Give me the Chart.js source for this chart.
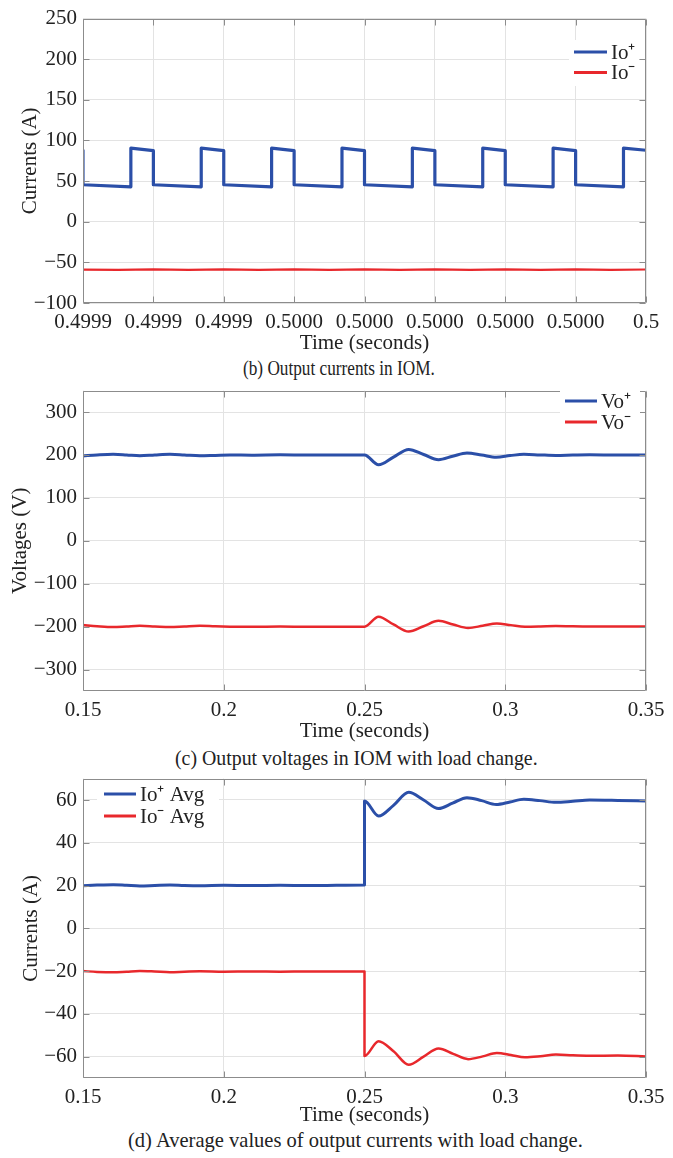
<!DOCTYPE html>
<html>
<head>
<meta charset="utf-8">
<script src="https://cdn.jsdelivr.net/npm/chart.js@4.4.1/dist/chart.umd.min.js"></script>
<style>
  body { margin: 0; background: #fff; width: 673px; height: 1158px; position: relative; overflow: hidden;
         font-family: "Liberation Serif", serif; color: #222; }
  .box { position: absolute; left: 0; width: 673px; }
  .cap { position: absolute; font-size: 21px; line-height: 24px; white-space: nowrap; transform-origin: left center; }
</style>
</head>
<body>
<div class="box" style="top:0;height:356px"><canvas id="c1"></canvas></div>
<div class="cap" style="left:243px;top:356px;transform:scaleX(0.82)">(b) Output currents in IOM.</div>
<div class="box" style="top:372px;height:372px"><canvas id="c2"></canvas></div>
<div class="cap" style="left:175px;top:746px;transform:scaleX(0.945)">(c) Output voltages in IOM with load change.</div>
<div class="box" style="top:760px;height:368px"><canvas id="c3"></canvas></div>
<div class="cap" style="left:128px;top:1128px;transform:scaleX(0.977)">(d) Average values of output currents with load change.</div>

<script>
// (b) output currents, switching ripple
const ioTickValues = [0.49992, 0.49993, 0.49994, 0.49995, 0.49996, 0.49997, 0.49998, 0.49999, 0.5];
const ioTickLabels = ['0.4999', '0.4999', '0.4999', '0.5000', '0.5000', '0.5000', '0.5000', '0.5000', '0.5'];
const ioYTicks = [-100, -50, 0, 50, 100, 150, 200, 250];
const ioYLabels = ['−100', '−50', '0', '50', '100', '150', '200', '250'];

const ioPlusTime = [0.49992, 0.49992, 0.4999268, 0.4999268,
                    0.49993, 0.49993, 0.4999368, 0.4999368,
                    0.49994, 0.49994, 0.4999468, 0.4999468,
                    0.49995, 0.49995, 0.4999568, 0.4999568,
                    0.49996, 0.49996, 0.4999668, 0.4999668,
                    0.49997, 0.49997, 0.4999768, 0.4999768,
                    0.49998, 0.49998, 0.4999868, 0.4999868,
                    0.49999, 0.49999, 0.4999968, 0.4999968, 0.5];
const ioPlus = [88, 45.5, 43, 90.5,
                87.5, 45.5, 43, 90.5,
                87.5, 45.5, 43, 90.5,
                87.5, 45.5, 43, 90.5,
                87.5, 45.5, 43, 90.5,
                87.5, 45.5, 43, 90.5,
                87.5, 45.5, 43, 90.5,
                87.5, 45.5, 43, 90.5, 88];
const ioMinusTime = [0.49992, 0.499925, 0.49993, 0.499935, 0.49994, 0.499945, 0.49995, 0.499955, 0.49996,
                     0.499965, 0.49997, 0.499975, 0.49998, 0.499985, 0.49999, 0.499995, 0.5];
const ioMinus = [-59, -59.3, -58.7, -59.3, -58.6, -59.3, -58.7, -59.3, -58.6,
                 -59.3, -58.7, -59.3, -58.6, -59.3, -58.7, -59.3, -58.8];

// (c) output voltages with load change
const tTickValues = [0.15, 0.2, 0.25, 0.3, 0.35];
const tTickLabels = ['0.15', '0.2', '0.25', '0.3', '0.35'];
const voYTicks = [-300, -200, -100, 0, 100, 200, 300];
const voYLabels = ['−300', '−200', '−100', '0', '100', '200', '300'];

const voPlusTime = [0.15, 0.155, 0.1607, 0.1655, 0.1702, 0.1755, 0.1809, 0.186, 0.1915, 0.197, 0.2022,
                    0.21, 0.22, 0.23, 0.24, 0.25, 0.255, 0.2603, 0.2657, 0.271, 0.2763, 0.2813, 0.2864,
                    0.2916, 0.2968, 0.3017, 0.3066, 0.3123, 0.318, 0.324, 0.33, 0.34, 0.35];
const voPlus = [197.7, 200, 201.6, 200, 198, 200, 201.6, 200, 198, 199, 200,
                199.6, 200.3, 199.7, 200.2, 200, 177, 195, 213, 201, 189, 197, 204.6,
                200, 194.8, 198.5, 201.6, 200.2, 199, 199.8, 200.4, 199.8, 200];
const voMinusTime = [0.15, 0.155, 0.1607, 0.1655, 0.1702, 0.1755, 0.1809, 0.186, 0.1915, 0.197, 0.2022,
                     0.21, 0.22, 0.23, 0.24, 0.25, 0.255, 0.2603, 0.2657, 0.271, 0.2763, 0.2815, 0.2868,
                     0.292, 0.297, 0.302, 0.307, 0.3125, 0.318, 0.324, 0.33, 0.34, 0.35];
const voMinus = [-196.3, -199, -201, -199.5, -198, -199.5, -201, -199.5, -198, -199.3, -200,
                 -200.3, -199.8, -200.2, -200, -200, -177, -195, -211.5, -199, -186.5, -195, -203,
                 -198, -192.7, -196.5, -200, -199.5, -198.6, -199.4, -199.8, -199.5, -199.6];

// (d) average output currents with load change
const avgYTicks = [-60, -40, -20, 0, 20, 40, 60];
const avgYLabels = ['−60', '−40', '−20', '0', '20', '40', '60'];

const avgPlusTime = [0.15, 0.155, 0.1607, 0.1655, 0.1702, 0.1755, 0.1809, 0.186, 0.1915, 0.2,
                     0.21, 0.22, 0.23, 0.24, 0.25, 0.25, 0.255, 0.2603, 0.2657, 0.271, 0.2763, 0.2813,
                     0.2864, 0.2916, 0.2968, 0.3017, 0.3066, 0.3123, 0.318, 0.324, 0.33, 0.34, 0.35];
const avgPlus = [19.9, 20.2, 20.4, 20.1, 19.8, 20, 20.2, 20, 19.9, 20.1,
                 20, 20.1, 20, 20.1, 20.2, 59.5, 52.5, 57.5, 63.6, 60, 56, 58.5,
                 61.1, 59.7, 57.9, 59.1, 60.3, 59.7, 58.9, 59.4, 60, 59.8, 59.5];
const avgMinusTime = [0.15, 0.155, 0.1607, 0.1655, 0.1702, 0.1755, 0.1809, 0.186, 0.1915, 0.2,
                      0.21, 0.22, 0.23, 0.24, 0.25, 0.25, 0.255, 0.2603, 0.2657, 0.271, 0.2763, 0.2815,
                      0.2868, 0.292, 0.297, 0.302, 0.307, 0.3125, 0.318, 0.324, 0.33, 0.34, 0.35];
const avgMinus = [-20, -20.4, -20.6, -20.3, -20, -20.2, -20.5, -20.3, -20.1, -20.3,
                  -20.2, -20.3, -20.2, -20.2, -20.2, -59.7, -52.8, -57.5, -63.8, -60, -56.2, -58.7,
                  -61.2, -59.9, -58.3, -59.2, -60.3, -59.8, -59, -59.4, -59.6, -59.5, -59.9];

const BLUE = '#2b4fa8';
const RED = '#e8282c';
const FONT = '"Liberation Serif", "Times New Roman", serif';

const toXY = (xs, ys) => xs.map((x, i) => ({ x: x, y: ys[i] }));

// box round the axes, inward tick marks, and the legend drawn inside the plot
const matlabFrame = {
    id: 'matlabFrame',
    afterDatasetsDraw(chart, args, opts) {
        const { ctx, chartArea: a, scales } = chart;
        ctx.save();
        ctx.strokeStyle = '#8c8c8c';
        ctx.lineWidth = 1;
        const L = Math.round(a.left) + 0.5, R = Math.round(a.right) - 0.5;
        const T = Math.round(a.top) + 0.5, B = Math.round(a.bottom) - 0.5;
        ctx.beginPath();
        ctx.rect(L, T, R - L, B - T);
        scales.x.ticks.forEach(t => {
            const px = Math.round(scales.x.getPixelForValue(t.value)) + 0.5;
            ctx.moveTo(px, B); ctx.lineTo(px, B - 6);
            ctx.moveTo(px, T); ctx.lineTo(px, T + 6);
        });
        scales.y.ticks.forEach(t => {
            const py = Math.round(scales.y.getPixelForValue(t.value)) + 0.5;
            ctx.moveTo(L, py); ctx.lineTo(L + 6, py);
            ctx.moveTo(R, py); ctx.lineTo(R - 6, py);
        });
        ctx.stroke();

        const lg = opts.legend;
        if (lg) {
            ctx.fillStyle = '#fff';
            ctx.fillRect(lg.box[0], lg.box[1], lg.box[2], lg.box[3]);
            ctx.font = '21px ' + FONT;
            ctx.textBaseline = 'middle';
            chart.data.datasets.forEach((ds, i) => {
                const y = lg.y + i * lg.rowH;
                ctx.strokeStyle = ds.borderColor;
                ctx.lineWidth = lg.lineWidth;
                ctx.beginPath();
                ctx.moveTo(lg.x, y);
                ctx.lineTo(lg.x + lg.lineLen, y);
                ctx.stroke();
                ctx.fillStyle = '#222';
                ctx.fillText(ds.label, lg.x + lg.lineLen + 4, y + 1);
            });
        }
        ctx.restore();
    }
};

const makeChart = (id, cfg) => {
    const ctx = document.getElementById(id).getContext('2d');
    return new Chart(ctx, {
        type: 'line',
        data: { datasets: cfg.datasets },
        options: {
            responsive: true,
            maintainAspectRatio: false,
            animation: false,
            layout: { padding: { top: cfg.padTop, right: 27, left: 0, bottom: 0 } },
            elements: { point: { radius: 0 }, line: { borderJoinStyle: 'round', borderCapStyle: 'round' } },
            plugins: {
                legend: { display: false },
                tooltip: { enabled: false },
                matlabFrame: { legend: cfg.legend }
            },
            scales: {
                x: {
                    type: 'linear',
                    min: cfg.xTicks[0],
                    max: cfg.xTicks[cfg.xTicks.length - 1],
                    afterBuildTicks: s => { s.ticks = cfg.xTicks.map(v => ({ value: v })); },
                    afterFit: s => { s.height = cfg.xHeight; },
                    grid: { color: '#e3e3e3', drawTicks: false },
                    border: { display: false },
                    ticks: {
                        autoSkip: false, maxRotation: 0, padding: 7,
                        color: '#222', font: { family: FONT, size: 21 },
                        callback: (v, i) => cfg.xLabels[i]
                    },
                    title: {
                        display: true, text: 'Time (seconds)', color: '#222',
                        font: { family: FONT, size: 21 }, padding: { top: 0, bottom: 0 }
                    }
                },
                y: {
                    min: cfg.yMin,
                    max: cfg.yMax,
                    afterBuildTicks: s => { s.ticks = cfg.yTicks.map(v => ({ value: v })); },
                    afterFit: s => { s.width = 83; },
                    grid: { color: '#e3e3e3', drawTicks: false },
                    border: { display: false },
                    ticks: {
                        autoSkip: false, padding: 6,
                        color: '#222', font: { family: FONT, size: 21 },
                        callback: (v, i) => cfg.yLabels[i]
                    },
                    title: {
                        display: true, text: cfg.yTitle, color: '#222',
                        font: { family: FONT, size: 21 }, padding: { top: cfg.yTitlePad, bottom: 0 }
                    }
                }
            }
        },
        plugins: [matlabFrame]
    });
};

makeChart('c1', {
    datasets: [
        { label: 'Io⁺', data: toXY(ioPlusTime, ioPlus), borderColor: BLUE, borderWidth: 3.2, tension: 0 },
        { label: 'Io⁻', data: toXY(ioMinusTime, ioMinus), borderColor: RED, borderWidth: 2.2, tension: 0 }
    ],
    padTop: 14, xHeight: 53,
    xTicks: ioTickValues, xLabels: ioTickLabels,
    yMin: -100, yMax: 250, yTicks: ioYTicks, yLabels: ioYLabels,
    yTitle: 'Currents (A)', yTitlePad: 18,
    legend: { x: 574, y: 52, rowH: 20.5, lineLen: 33, lineWidth: 3, box: [569, 40, 70, 46] }
});

makeChart('c2', {
    datasets: [
        { label: 'Vo⁺', data: toXY(voPlusTime, voPlus), borderColor: BLUE, borderWidth: 3, cubicInterpolationMode: 'monotone' },
        { label: 'Vo⁻', data: toXY(voMinusTime, voMinus), borderColor: RED, borderWidth: 2.5, cubicInterpolationMode: 'monotone' }
    ],
    padTop: 12, xHeight: 53,
    xTicks: tTickValues, xLabels: tTickLabels,
    yMin: -350, yMax: 350, yTicks: voYTicks, yLabels: voYLabels,
    yTitle: 'Voltages (V)', yTitlePad: 8,
    legend: { x: 565, y: 29, rowH: 21, lineLen: 32, lineWidth: 3, box: [560, 15, 80, 48] }
});

makeChart('c3', {
    datasets: [
        { label: 'Io⁺ Avg', data: toXY(avgPlusTime, avgPlus), borderColor: BLUE, borderWidth: 3, cubicInterpolationMode: 'monotone' },
        { label: 'Io⁻ Avg', data: toXY(avgMinusTime, avgMinus), borderColor: RED, borderWidth: 2.5, cubicInterpolationMode: 'monotone' }
    ],
    padTop: 12, xHeight: 50,
    xTicks: tTickValues, xLabels: tTickLabels,
    yMin: -70, yMax: 70, yTicks: avgYTicks, yLabels: avgYLabels,
    yTitle: 'Currents (A)', yTitlePad: 19,
    legend: { x: 104, y: 34, rowH: 22, lineLen: 32, lineWidth: 3, box: [97, 22, 122, 46] }
});
</script>
</body>
</html>
